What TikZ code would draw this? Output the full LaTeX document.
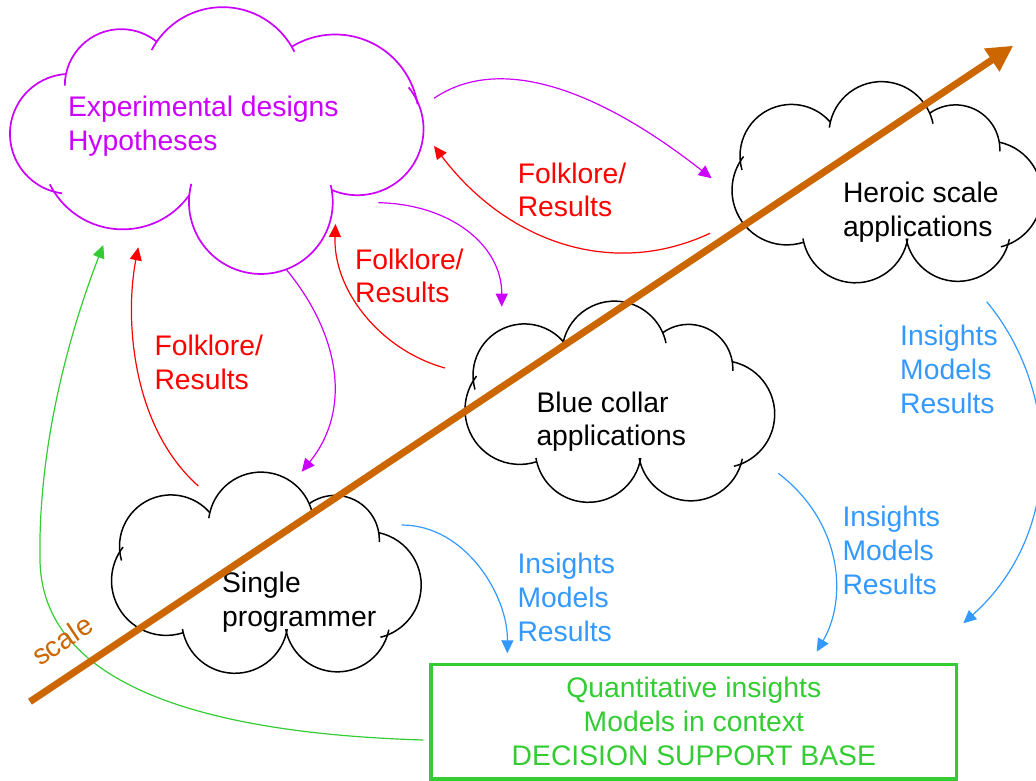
\documentclass[tikz,border=0pt]{standalone}
\usepackage{fontspec}
\setmainfont{Liberation Sans}
\usetikzlibrary{arrows.meta,calc}
\definecolor{cviolet}{RGB}{204,0,255}
\definecolor{cred}{RGB}{255,0,0}
\definecolor{cblue}{RGB}{51,153,255}
\definecolor{cgreen}{RGB}{51,204,51}
\definecolor{corange}{RGB}{204,102,0}
\newcommand\bigfont{\fontsize{28.3pt}{33.8pt}\selectfont}
% lobe: arc from #1 to #2 bulging (left of travel) by sagitta #3,
% extended by #4 degrees before start and #5 degrees after end
\newcommand\lobe[5]{%
  \draw let \p1=#1, \p2=#2,
    \n1={atan2((\y2)-(\y1),(\x2)-(\x1))},
    \n2={veclen((\x2)-(\x1),(\y2)-(\y1))/2},
    \n3={2*atan(#3/(\n2))},
    \n4={(\n2)/sin(\n3)}
  in (\p1) arc[start angle=\n1+90+\n3, delta angle=#4, radius=\n4]
     (\p1) arc[start angle=\n1+90+\n3, delta angle=-2*(\n3)-#5, radius=\n4];%
}
\newcommand\blackcloud[2]{%
  \coordinate (J1) at ({#1-55.7},{#2+60.8});
  \coordinate (J2) at ({#1+43.7},{#2+69.8});
  \coordinate (J3) at ({#1+113.3},{#2+40.8});
  \coordinate (J4) at ({#1+122},{#2-61.5});
  \coordinate (J5) at ({#1+21},{#2-59.2});
  \coordinate (J6) at ({#1-82.3},{#2-59.2});
  \coordinate (J7) at ({#1-145.7},{#2+21.8});
  \lobe{(J7)}{(J1)}{36}{10}{0}
  \lobe{(J1)}{(J2)}{36}{6}{12}
  \lobe{(J2)}{(J3)}{21}{0}{12}
  \lobe{(J3)}{(J4)}{38}{0}{8}
  \lobe{(J4)}{(J5)}{38}{6}{4}
  \lobe{(J5)}{(J6)}{40.6}{4}{4}
  \lobe{(J6)}{(J7)}{36}{0}{6}
}
\begin{document}
\begin{tikzpicture}[x=1pt,y=1pt,
  txt/.style={font=\bigfont, inner sep=0pt, align=left, anchor=base west},
  conn/.style={line width=1.2pt, -{Triangle[length=13pt,width=12pt]}},
  cloudline/.style={line width=1.5pt}]
\useasboundingbox (0,0) rectangle (1036,-781);

% ---- purple cloud ----
\begin{scope}[cviolet, line width=1.7pt]
  \coordinate (PA) at (66,-74);
  \coordinate (PB) at (156.7,-41.7);
  \coordinate (PC) at (291.7,-46.7);
  \coordinate (PD) at (416.7,-100);
  \coordinate (PE) at (331.7,-190);
  \coordinate (PF) at (189.3,-195);
  \coordinate (PG) at (54,-191.7);
  \lobe{(PG)}{(PA)}{50}{8}{0}
  \lobe{(PA)}{(PB)}{27}{12}{0}
  \lobe{(PB)}{(PC)}{37}{7}{4}
  \lobe{(PC)}{(PD)}{35}{0}{3}
  \lobe{(PD)}{(PE)}{43}{13}{0}
  \lobe{(PE)}{(PF)}{81.5}{4}{9}
  \lobe{(PF)}{(PG)}{36}{0}{6}
\end{scope}

% ---- black clouds ----
\begin{scope}[black, cloudline]
  \blackcloud{886}{-183}
  \blackcloud{619}{-402.5}
  \blackcloud{265.5}{-573.5}
\end{scope}

% ---- decision support box ----
\node[draw=cgreen, line width=3.3pt, minimum width=525.7pt, minimum height=114.7pt,
      inner sep=0pt, align=center, text=cgreen, font=\bigfont]
  (dsb) at (693.85,-721.65) {Quantitative insights\\Models in context\\DECISION SUPPORT BASE};

% ---- texts (anchored at the baseline of the last line) ----
\node[txt, text=cviolet] (exp) at (67.8,-150.5) {Experimental designs\\Hypotheses};
\node[txt] (heroic) at (842.8,-236.3) {Heroic scale\\applications};
\node[txt] (bluec) at (536.3,-445.8) {Blue collar\\applications};
\node[txt] (single) at (221.9,-626) {Single\\programmer};
\node[txt, text=cred] (fr1) at (517.6,-216.9) {Folklore/\\Results};
\node[txt, text=cred] (fr2) at (354.9,-302.9) {Folklore/\\Results};
\node[txt, text=cred] (fr3) at (154.3,-389) {Folklore/\\Results};
\node[txt, text=cblue] (imr1) at (900,-413.5) {Insights\\Models\\Results};
\node[txt, text=cblue] (imr2) at (842.3,-594.5) {Insights\\Models\\Results};
\node[txt, text=cblue] (imr3) at (517.3,-641.5) {Insights\\Models\\Results};

% ---- connector end points ----
\coordinate (p1s) at (434,-98.3);   \coordinate (p1e) at (711.7,-178.3);
\coordinate (p2s) at (378.3,-202.7); \coordinate (p2e) at (501.7,-306.7);
\coordinate (p3s) at (286.7,-270);  \coordinate (p3e) at (301.7,-471.7);
\coordinate (r1s) at (710,-233.3);  \coordinate (r1e) at (434,-146);
\coordinate (r2s) at (445,-368);    \coordinate (r2e) at (335.5,-224);
\coordinate (r3s) at (198.3,-486);  \coordinate (r3e) at (138.3,-247.3);
\coordinate (b1s) at (401.7,-525);  \coordinate (b1e) at (507.3,-653.3);
\coordinate (b2s) at (778.3,-473.3); \coordinate (b2e) at (816.7,-651.7);
\coordinate (b3s) at (986.7,-301.7); \coordinate (b3e) at (963.3,-623.3);
\coordinate (g1s) at (423.3,-740);  \coordinate (g1m) at (40,-560); \coordinate (g1e) at (103.3,-245);
\coordinate (sc0) at (30,-701.7);   \coordinate (sc1) at (1013.3,-45.7);

% ---- connectors ----
\draw[conn, cviolet] (p1s) .. controls (505,-50) and (609.7,-98) .. (p1e);
\draw[conn, cviolet] (p2s) .. controls (450,-204) and (502,-245) .. (p2e);
\draw[conn, cviolet] (p3s) .. controls (340,-335) and (352,-410) .. (p3e);
\draw[conn, cred] (r1s) .. controls (610,-280) and (505,-240) .. (r1e);
\draw[conn, cred] (r2s) .. controls (380,-350) and (333,-290) .. (r2e);
\draw[conn, cred] (r3s) .. controls (130,-425) and (125,-315) .. (r3e);
\draw[conn, cblue] (b1s) .. controls (465,-525) and (508,-595) .. (b1e);
\draw[conn, cblue] (b2s) .. controls (842,-522) and (848,-598) .. (b2e);
\draw[conn, cblue] (b3s) .. controls (1060,-390) and (1065,-532) .. (b3e);
\draw[conn, cgreen] (g1s) .. controls (260,-735) and (42,-705) .. (g1m)
   .. controls (38,-450) and (67.3,-338) .. (g1e);

% ---- scale arrow ----
\draw[corange, line width=7pt, -{Triangle[length=26pt,width=26pt]}] (sc0) -- (sc1);
\node[font=\bigfont, text=corange, inner sep=0pt, rotate=33.7, anchor=base west]
  (scalelbl) at (40,-667) {scale};
\end{tikzpicture}
\end{document}
